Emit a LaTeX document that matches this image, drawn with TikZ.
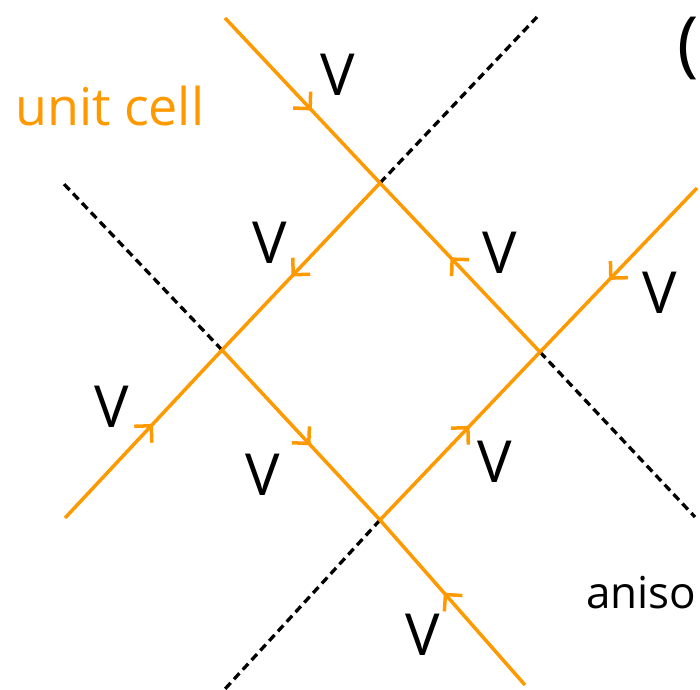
\documentclass[tikz,border=0pt]{standalone}
\usepackage{fontspec}
\setmainfont{Open Sans}
\usetikzlibrary{arrows.meta,decorations.markings}
\definecolor{orng}{RGB}{255,153,0}
\begin{document}
\begin{tikzpicture}[x=1pt,y=-1pt,
  wire/.style={orng,line width=3.5pt},
  guide/.style={black,line width=3.3pt,dash pattern=on 8pt off 5pt},
  flow/.style={wire,postaction={decorate},decoration={markings,mark=at position 0.56 with {\arrow[orng,line width=3.5pt]{Straight Barb[angle=90:17pt]}}}},
  lab/.style={font=\fontsize{58}{58}\selectfont, inner sep=0pt},
  txt/.style={font=\fontsize{52}{52}\selectfont, inner sep=0pt},
]
\useasboundingbox (0,0) rectangle (700,689);
\coordinate (T) at (380,183);
\coordinate (L) at (222,350);
\coordinate (B) at (380,520);
\coordinate (R) at (540,352);
\coordinate (a0) at (225,18);
\coordinate (c0) at (65,518);
\coordinate (b0) at (525,685);
\coordinate (d0) at (697,188);
\coordinate (gT) at (537,17);
\coordinate (gL) at (63,183);
\coordinate (gR) at (695,517);
\coordinate (gB) at (225,689);
% dashed guides
\draw[guide] (T) -- (gT);
\draw[guide] (L) -- (gL);
\draw[guide] (R) -- (gR);
\draw[guide] (B) -- (gB);
% orange wires
\draw[flow] (a0) -- (T);
\draw[flow] (R) -- (T);
\draw[flow] (T) -- (L);
\draw[flow] (c0) -- (L);
\draw[flow] (L) -- (B);
\draw[flow] (b0) -- (B);
\draw[flow] (B) -- (R);
\draw[flow] (d0) -- (R);
% labels
\node[lab] (v1) at (338,75) {V};
\node[lab] (v2) at (270,243) {V};
\node[lab] (v3) at (500,253) {V};
\node[lab] (v4) at (660,293) {V};
\node[lab] (v5) at (112,407) {V};
\node[lab] (v6) at (263,475) {V};
\node[lab] (v7) at (495,462) {V};
\node[lab] (v8) at (423,635) {V};
\node[txt,orng,anchor=base west] (uc) at (15,125) {unit cell};
\node[txt,font=\fontsize{44}{44}\selectfont,anchor=base west] (an) at (586,608) {aniso};
\node[font=\fontsize{72}{72}\selectfont,inner sep=0pt,anchor=east] (par) at (699,48) {(};
\end{tikzpicture}
\end{document}
